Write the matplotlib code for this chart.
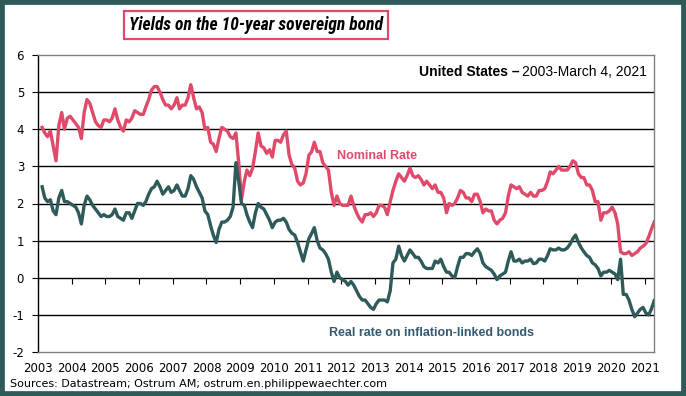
import numpy as np
import pandas as pd
import matplotlib
matplotlib.use("Agg")
import matplotlib.pyplot as plt
from matplotlib.patches import Rectangle
from matplotlib import font_manager

# Monthly readings, Jan 2003 - Mar 2021
nominal = [
    4.05, 3.90, 3.80, 3.95, 3.55, 3.15, 4.10, 4.45, 4.00, 4.30, 4.35, 4.25,   # 2003
    4.15, 4.05, 3.75, 4.45, 4.80, 4.70, 4.45, 4.20, 4.10, 4.05, 4.25, 4.25,   # 2004
    4.20, 4.30, 4.55, 4.25, 4.05, 3.95, 4.25, 4.20, 4.30, 4.50, 4.45, 4.40,   # 2005
    4.40, 4.60, 4.80, 5.05, 5.15, 5.15, 5.00, 4.80, 4.65, 4.65, 4.55, 4.65,   # 2006
    4.85, 4.55, 4.65, 4.65, 4.85, 5.20, 4.85, 4.55, 4.60, 4.45, 4.00, 4.05,   # 2007
    3.65, 3.60, 3.40, 3.75, 4.05, 4.00, 3.95, 3.80, 3.75, 3.90, 3.10, 2.10,   # 2008
    2.60, 2.90, 2.75, 2.95, 3.40, 3.90, 3.55, 3.50, 3.35, 3.45, 3.25, 3.70,   # 2009
    3.70, 3.65, 3.85, 3.95, 3.30, 3.05, 2.95, 2.60, 2.50, 2.55, 2.80, 3.30,   # 2010
    3.40, 3.65, 3.40, 3.40, 3.10, 3.00, 2.90, 2.30, 1.95, 2.20, 2.00, 1.95,   # 2011
    1.95, 1.95, 2.20, 1.95, 1.75, 1.60, 1.50, 1.70, 1.70, 1.75, 1.65, 1.75,   # 2012
    1.95, 1.95, 1.90, 1.70, 2.05, 2.35, 2.60, 2.80, 2.70, 2.60, 2.75, 2.95,   # 2013
    2.75, 2.70, 2.75, 2.65, 2.50, 2.60, 2.50, 2.40, 2.50, 2.30, 2.30, 2.15,   # 2014
    1.75, 2.00, 1.95, 2.00, 2.15, 2.35, 2.30, 2.15, 2.15, 2.05, 2.25, 2.25,   # 2015
    2.05, 1.75, 1.85, 1.80, 1.80, 1.55, 1.45, 1.55, 1.60, 1.75, 2.20, 2.50,   # 2016
    2.45, 2.40, 2.45, 2.30, 2.25, 2.20, 2.30, 2.20, 2.20, 2.35, 2.35, 2.40,   # 2017
    2.60, 2.85, 2.80, 2.90, 3.00, 2.90, 2.90, 2.90, 3.00, 3.15, 3.10, 2.80,   # 2018
    2.70, 2.70, 2.50, 2.50, 2.35, 2.05, 2.05, 1.55, 1.75, 1.75, 1.80, 1.90,   # 2019
    1.75, 1.45, 0.70, 0.65, 0.65, 0.70, 0.60, 0.65, 0.70, 0.80, 0.85, 0.92,   # 2020
    1.10, 1.30, 1.50,                                                         # 2021
]
real = [
    2.45, 2.15, 2.05, 2.10, 1.80, 1.70, 2.15, 2.35, 2.05, 2.05, 2.00, 1.95,   # 2003
    1.90, 1.75, 1.45, 1.95, 2.20, 2.10, 1.95, 1.85, 1.75, 1.65, 1.70, 1.65,   # 2004
    1.65, 1.70, 1.85, 1.65, 1.60, 1.55, 1.75, 1.75, 1.60, 1.80, 2.00, 2.00,   # 2005
    1.95, 2.05, 2.25, 2.40, 2.45, 2.60, 2.45, 2.25, 2.35, 2.45, 2.30, 2.35,   # 2006
    2.50, 2.35, 2.20, 2.20, 2.40, 2.75, 2.65, 2.45, 2.30, 2.15, 1.80, 1.70,   # 2007
    1.40, 1.15, 0.95, 1.30, 1.50, 1.50, 1.55, 1.65, 1.90, 3.10, 2.60, 2.00,   # 2008
    1.95, 1.70, 1.50, 1.35, 1.75, 2.00, 1.90, 1.85, 1.70, 1.55, 1.35, 1.50,   # 2009
    1.55, 1.55, 1.60, 1.50, 1.30, 1.20, 1.15, 0.95, 0.70, 0.45, 0.75, 1.05,   # 2010
    1.20, 1.35, 1.00, 0.80, 0.75, 0.65, 0.50, 0.15, -0.10, 0.15, 0.00, -0.05, # 2011
    -0.10, -0.20, -0.10, -0.20, -0.35, -0.50, -0.60, -0.60, -0.70, -0.80, -0.85, -0.70,  # 2012
    -0.60, -0.60, -0.60, -0.65, -0.35, 0.40, 0.50, 0.85, 0.60, 0.45, 0.60, 0.75,  # 2013
    0.65, 0.55, 0.55, 0.45, 0.30, 0.25, 0.25, 0.25, 0.45, 0.40, 0.50, 0.30,   # 2014
    0.15, 0.15, 0.05, 0.00, 0.30, 0.55, 0.55, 0.65, 0.65, 0.60, 0.70, 0.78,   # 2015
    0.65, 0.40, 0.30, 0.25, 0.20, 0.10, -0.05, 0.05, 0.10, 0.15, 0.45, 0.70,  # 2016
    0.45, 0.45, 0.50, 0.40, 0.45, 0.45, 0.50, 0.38, 0.40, 0.50, 0.50, 0.45,   # 2017
    0.60, 0.78, 0.75, 0.75, 0.80, 0.75, 0.75, 0.80, 0.90, 1.05, 1.15, 0.95,   # 2018
    0.80, 0.70, 0.60, 0.55, 0.40, 0.35, 0.25, 0.05, 0.15, 0.15, 0.20, 0.15,   # 2019
    0.10, -0.05, 0.50, -0.45, -0.45, -0.60, -0.85, -1.05, -0.95, -0.85, -0.80, -0.95,  # 2020
    -1.00, -0.85, -0.62,                                                      # 2021
]
years = list(range(2003, 2022))
y_ticks = [-2, -1, 0, 1, 2, 3, 4, 5, 6]

dates = pd.date_range("2003-01-15", periods=len(nominal), freq="MS") + pd.Timedelta(days=14)
xpos = np.array([d.year + (d.dayofyear - 1) / 365.25 for d in dates])

RED = "#e04a6a"
GREEN = "#2f5a5a"
BORDER = "#2f5a5a"

fig = plt.figure(figsize=(6.86, 3.96), dpi=100)
ax = fig.add_axes([38 / 686, 1 - 352 / 396, (654 - 38) / 686, (352 - 55) / 396])

ax.plot(xpos, nominal, color=RED, lw=2.4, solid_joinstyle="round", zorder=3)
ax.plot(xpos, real, color=GREEN, lw=2.4, solid_joinstyle="round", zorder=3)

ax.set_xlim(2003, 2021.28)
ax.set_ylim(-2, 6)

for v in [-1, 0, 1, 2, 3, 4, 5]:
    ax.axhline(v, color="black", lw=1.0, zorder=1)

ax.set_yticks(y_ticks)
ax.set_yticklabels([str(v) for v in y_ticks], fontsize=8.5)
ax.tick_params(axis="y", direction="out", length=4, width=0.8, pad=6)

ax.set_xticks(years)
ax.set_xticklabels([str(y) for y in years], fontsize=8.5)
ax.tick_params(axis="x", length=0, pad=7)

sec = ax.secondary_xaxis(0.25)
sec.set_xticks(years)
sec.tick_params(axis="x", direction="out", length=4, width=0.8, labelbottom=False, labeltop=False)
sec.spines["bottom"].set_visible(False)
sec.spines["top"].set_visible(False)

ax.spines["left"].set_color("black")
ax.spines["left"].set_linewidth(1.0)
for s in ["top", "right", "bottom"]:
    ax.spines[s].set_color("#808080")
    ax.spines[s].set_linewidth(1.0)

# annotations
fig.text(337 / 686, 1 - 156 / 396, "Nominal Rate",
         color=RED, fontsize=9, fontweight="bold", family="Liberation Sans",
         ha="left", va="center")
fig.text(329 / 686, 1 - 333 / 396, "Real rate on inflation-linked bonds",
         color="#335a70", fontsize=9, fontweight="bold", family="Liberation Sans",
         ha="left", va="center")

t2 = fig.text(647 / 686, 1 - 72 / 396, "2003-March 4, 2021", color="black",
              fontsize=10, family="Liberation Sans", ha="right", va="center")
fig.canvas.draw()
bb = t2.get_window_extent()
fig.text((bb.x0 - 3) / 686, 1 - 72 / 396, "United States \u2013", color="black",
         fontsize=10, fontweight="bold", family="Liberation Sans", ha="right", va="center")

# title: pick a narrow installed face and fit to the reference width
avail = {f.name for f in font_manager.fontManager.ttflist}
tfam = "Liberation Sans"
for cand in ["Liberation Sans Narrow", "Roboto Condensed", "Open Sans Condensed", "Roboto"]:
    if cand in avail:
        tfam = cand
        break
title = fig.text(256 / 686, 1 - 25 / 396, "Yields on the 10-year sovereign bond",
                 fontsize=14, fontweight="bold", fontstyle="italic", family=tfam,
                 ha="center", va="center",
                 bbox=dict(boxstyle="square,pad=0.3", facecolor="white", edgecolor=RED, linewidth=1.6))
fig.canvas.draw()
w = title.get_window_extent().width
target = 256.0
if w > target:
    title.set_fontsize(14 * target / w)

fig.text(10 / 686, 1 - 384 / 396, "Sources: Datastream; Ostrum AM; ostrum.en.philippewaechter.com",
         fontsize=8, color="black", ha="left", va="center")

fig.patches.append(Rectangle((0, 0), 1, 1, transform=fig.transFigure, fill=False,
                             edgecolor=BORDER, linewidth=7, zorder=10))

fig.savefig("out.png", dpi=100)
